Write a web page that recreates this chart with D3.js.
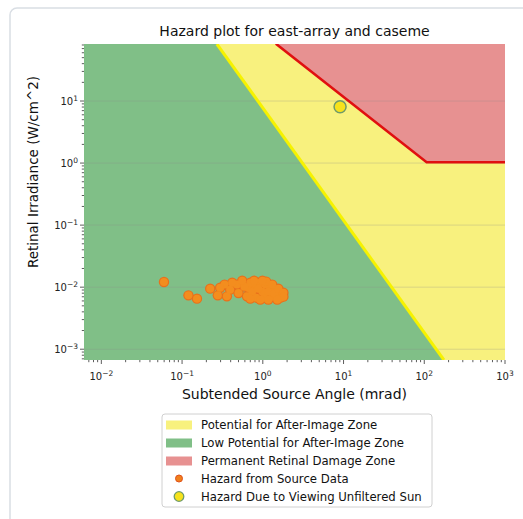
<!DOCTYPE html>
<html><head><meta charset="utf-8">
<script src="https://cdn.jsdelivr.net/npm/d3@7"></script>
<style>
html,body{margin:0;padding:0;background:#fff;}
svg{display:block;font-family:"DejaVu Sans",sans-serif;}
</style></head>
<body><svg id="c" width="523" height="519"></svg>
<script>
const title = "Hazard plot for east-array and caseme";
const xLabel = "Subtended Source Angle (mrad)";
const yLabel = "Retinal Irradiance (W/cm^2)";
const xDomain = [0.0061, 1000];
const yDomain = [6.7e-4, 83];
const xTickExps = [-2, -1, 0, 1, 2, 3];
const yTickExps = [-3, -2, -1, 0, 1];
// after-image threshold line (theta, E)
const yellowLineTheta = [0.27, 175];
const yellowLineE = [83, 6.7e-4];
// permanent retinal damage line (theta, E)
const redLineTheta = [1.45, 107, 1000];
const redLineE = [84, 1.03, 1.03];
// source data
const srcTheta = [0.0597,0.120,0.153,0.223,0.277,0.336,0.359,0.394,0.479,0.500,0.637,0.667,0.807,
  0.931,1.074,1.239,1.43,1.60,1.65,1.31,1.04,0.83,0.99,1.17,0.74,0.70,0.59,0.88,1.39,0.556,0.418,0.296,
  1.104,1.31,1.56,1.80,1.80,1.51,1.17,0.93,0.70,0.78,0.99];
const srcE = [0.0121,0.00738,0.00653,0.00946,0.00738,0.0110,0.00711,0.00912,0.0110,0.00806,0.00711,0.00971,0.0103,
  0.0118,0.0110,0.00982,0.00879,0.00757,0.00677,0.00703,0.00677,0.00677,0.00846,0.00846,0.00846,0.0118,0.0102,0.0094,0.00787,0.0127,0.0118,0.0098,
  0.0123,0.0110,0.00946,0.00815,0.00703,0.00629,0.00629,0.00629,0.00653,0.0127,0.0127];
const sunTheta = [9.06];
const sunE = [8.1];
const legendLabels = ["Potential for After-Image Zone","Low Potential for After-Image Zone","Permanent Retinal Damage Zone","Hazard from Source Data","Hazard Due to Viewing Unfiltered Sun"];

const colGreen = "#80bf87", colYellow = "#f8f17e", colRed = "#e79191";

const svg = d3.select("#c");
const L = 84, R = 505, T = 44, B = 360;
const x = d3.scaleLog().domain(xDomain).range([L, R]);
const y = d3.scaleLog().domain(yDomain).range([B, T]);

// frame
svg.append("rect").attr("x",10).attr("y",8).attr("width",540).attr("height",540).attr("rx",7)
  .attr("fill","none").attr("stroke","#d9dee4").attr("stroke-width",1.5);

svg.append("defs").append("clipPath").attr("id","clip").append("rect")
  .attr("x",L).attr("y",T).attr("width",R-L).attr("height",B-T);
const g = svg.append("g").attr("clip-path","url(#clip)");

// zones
g.append("rect").attr("x",L).attr("y",T).attr("width",R-L).attr("height",B-T).attr("fill",colYellow);
const yl = yellowLineTheta.map((t,i)=>[x(t),y(yellowLineE[i])]);
g.append("path").attr("fill",colGreen)
  .attr("d", d3.line()([[L,T],...yl,[L,B]]) + "Z");
const rl = redLineTheta.map((t,i)=>[x(t),y(redLineE[i])]);
g.append("path").attr("fill",colRed)
  .attr("d", d3.line()([...rl,[R,T]]) + "Z");

// grid
yTickExps.forEach(e=>{
  g.append("line").attr("x1",L).attr("x2",R).attr("y1",y(Math.pow(10,e))).attr("y2",y(Math.pow(10,e)))
   .attr("stroke","#8a8a8a").attr("stroke-opacity",0.35).attr("stroke-width",0.8);
});

// boundary lines
g.append("path").attr("d",d3.line()(yl)).attr("stroke","#f6f200").attr("stroke-width",3).attr("fill","none");
g.append("path").attr("d",d3.line()(rl)).attr("stroke","#e01010").attr("stroke-width",2.5).attr("fill","none");

// source points
const pts = g.append("g");
srcTheta.forEach((t,i)=>{
  pts.append("circle").attr("cx",x(t)).attr("cy",y(srcE[i])).attr("r",5.2)
   .attr("fill","#e8701c");
});
srcTheta.forEach((t,i)=>{
  pts.append("circle").attr("cx",x(t)).attr("cy",y(srcE[i])).attr("r",4)
   .attr("fill","#f38d1e");
});
sunTheta.forEach((t,i)=>{
  g.append("circle").attr("cx",x(t)).attr("cy",y(sunE[i])).attr("r",6)
   .attr("fill","#f6e21c").attr("stroke","#6f9a6a").attr("stroke-width",1.5);
});

// axes ticks
function minorTicks(domain){
  const out=[];
  for(let e=Math.floor(Math.log10(domain[0])); e<=Math.ceil(Math.log10(domain[1])); e++){
    for(let k=1;k<10;k++){const v=k*Math.pow(10,e); if(v>=domain[0]&&v<=domain[1]) out.push({v,major:k===1});}
  }
  return out;
}
const ax = svg.append("g").attr("stroke","#333");
minorTicks(xDomain).forEach(d=>{
  ax.append("line").attr("x1",x(d.v)).attr("x2",x(d.v)).attr("y1",B).attr("y2",B+(d.major?4:2.2)).attr("stroke-width",0.8);
});
minorTicks(yDomain).forEach(d=>{
  ax.append("line").attr("y1",y(d.v)).attr("y2",y(d.v)).attr("x1",L).attr("x2",L-(d.major?4:2.2)).attr("stroke-width",0.8);
});
function sup(s){return s.replace("-","\u2212");}
xTickExps.forEach(e=>{
  const t = svg.append("text").attr("x",x(Math.pow(10,e))).attr("y",380).attr("text-anchor","middle")
    .attr("font-size",10).attr("fill","#222");
  t.append("tspan").text("10");
  t.append("tspan").attr("dy",-4).attr("font-size",7.5).text(sup(String(e)));
});
yTickExps.forEach(e=>{
  const t = svg.append("text").attr("x",78).attr("y",y(Math.pow(10,e))+4).attr("text-anchor","end")
    .attr("font-size",10).attr("fill","#222");
  t.append("tspan").text("10");
  t.append("tspan").attr("dy",-4).attr("font-size",7.5).text(sup(String(e)));
});

// titles
svg.append("text").attr("x",(L+R)/2).attr("y",36).attr("text-anchor","middle").attr("font-size",14).attr("fill","#111").text(title);
svg.append("text").attr("x",(L+R)/2).attr("y",399).attr("text-anchor","middle").attr("font-size",14).attr("fill","#111").text(xLabel);
svg.append("text").attr("transform","translate(38,"+((T+B)/2-30)+") rotate(-90)").attr("text-anchor","middle").attr("font-size",13.5).attr("fill","#111").text(yLabel);

// legend
const lg = svg.append("g");
lg.append("rect").attr("x",162).attr("y",414).attr("width",270).attr("height",93).attr("rx",3)
  .attr("fill","#fff").attr("stroke","#d0d0d0");
const rowY = [424.5,442.5,460.5,478.5,496.5];
const patchCols = [colYellow, colGreen, colRed];
legendLabels.forEach((lab,i)=>{
  if(i<3){
    lg.append("rect").attr("x",166).attr("y",rowY[i]-4).attr("width",26).attr("height",9).attr("fill",patchCols[i]);
  } else if(i===3){
    lg.append("circle").attr("cx",179).attr("cy",rowY[i]).attr("r",3.5).attr("fill","#f0801c").attr("stroke","#e0501a").attr("stroke-width",1);
  } else {
    lg.append("circle").attr("cx",179).attr("cy",rowY[i]).attr("r",4.8).attr("fill","#f6e21c").attr("stroke","#6f9a6a").attr("stroke-width",1.3);
  }
  lg.append("text").attr("x",201).attr("y",rowY[i]+4).attr("font-size",11.7).attr("fill","#111").text(lab);
});
</script></body></html>
